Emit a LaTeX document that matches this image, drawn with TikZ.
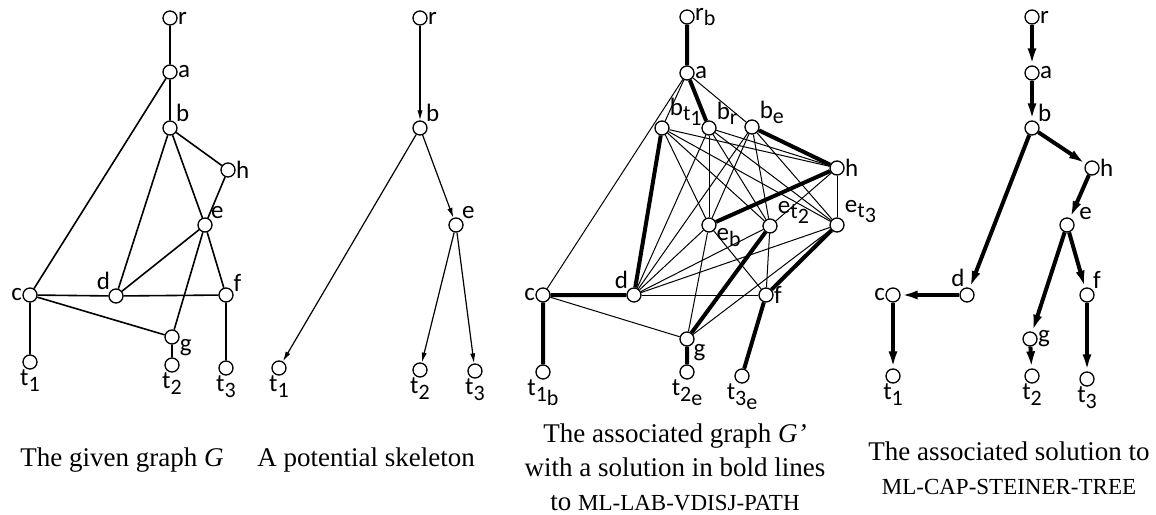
\documentclass[tikz,border=0pt]{standalone}
\usepackage{fontspec}
\setmainfont{Liberation Serif}
\newfontfamily\labfont{Carlito}
\usetikzlibrary{arrows.meta}
\newcommand{\lo}[1]{\raisebox{-0.45ex}{\fontsize{11}{11}\selectfont #1}}
\newcommand{\smallcap}{\fontsize{11.5}{17}\selectfont}

\begin{document}
\begin{tikzpicture}[x=0.5pt,y=-0.5pt,
    v/.style={circle,draw,line width=0.65pt,minimum size=7pt,inner sep=0pt,fill=white},
    every label/.style={font=\labfont\fontsize{12.5}{12.5}\selectfont,inner sep=0.5pt},
    label distance=-0.5pt,
    edge/.style={line width=0.8pt},
    thinedge/.style={line width=0.5pt},
    boldedge/.style={line width=2pt},
    arr/.style={-{Latex[length=5pt,width=2.6pt]},line width=0.6pt},
    barr/.style={-{Latex[length=8.5pt,width=4.5pt]},line width=2pt},
    capt/.style={font=\fontsize{13.5}{17}\selectfont,inner sep=0pt}]
  \useasboundingbox (0,0) rectangle (1156,514);

  % the given graph
  \node[v,label=right:r] (Ar) at (170,18) {};
  \node[v,label=right:a] (Aa) at (170,72) {};
  \node[v,label=45:b] (Ab) at (170,128) {};
  \node[v,label=right:h] (Ah) at (228,170) {};
  \node[v,label=45:e] (Ae) at (205,225) {};
  \node[v,label=left:c] (Ac) at (30,295) {};
  \node[v,label=135:d] (Ad) at (116,296) {};
  \node[v,label=20:f] (Af) at (226,295) {};
  \node[v,label=-10:g] (Ag) at (172,337) {};
  \node[v,label=below:t\lo{1}] (At1) at (30,362) {};
  \node[v,label=below:t\lo{2}] (At2) at (172,365) {};
  \node[v,label=below:t\lo{3}] (At3) at (226,368) {};
  \draw[edge] (Ar) -- (Aa) -- (Ab) -- (Ah) -- (Ae) -- (Af) -- (At3);
  \draw[edge] (Aa) -- (Ac) -- (At1);
  \draw[edge] (Ab) -- (Ad) -- (Ae) -- (Ab);
  \draw[edge] (Ae) -- (Ag) -- (At2);
  \draw[edge] (Ac) -- (Ad) -- (Af);
  \draw[edge] (Ac) -- (Ag);

  % skeleton
  \node[v,label=right:r] (Br) at (420,18) {};
  \node[v,label=45:b] (Bb) at (420,128) {};
  \node[v,label=45:e] (Be) at (456,225) {};
  \node[v,label=below:t\lo{1}] (Bt1) at (279,368) {};
  \node[v,label=below:t\lo{2}] (Bt2) at (420,370) {};
  \node[v,label=below:t\lo{3}] (Bt3) at (475,371) {};
  \draw[arr] (Br) -- (Bb);
  \draw[arr] (Bb) -- (Bt1);
  \draw[arr] (Bb) -- (Be);
  \draw[arr] (Be) -- (Bt2);
  \draw[arr] (Be) -- (Bt3);

  % associated graph
  \node[v,label=right:r\lo{b}] (Cr) at (687,17) {};
  \node[v,label=right:a] (Ca) at (687,73) {};
  \node[v,label=10:b\lo{t\lo{1}}] (Cb1) at (662,128) {};
  \node[v,label=15:b\lo{r}] (Cb2) at (709,128) {};
  \node[v,label=15:b\lo{e}] (Cb3) at (752,127) {};
  \node[v,label=right:h] (Ch) at (837,168) {};
  \node[v,label=-20:e\lo{b}] (Ce1) at (709,225) {};
  \node[v,label=10:e\lo{t\lo{2}}] (Ce2) at (770,226) {};
  \node[v,label=10:e\lo{t\lo{3}}] (Ce3) at (837,225) {};
  \node[v,label=left:c] (Cc) at (543,295) {};
  \node[v,label=135:d] (Cd) at (634,295) {};
  \node[v,label=right:f] (Cf) at (766,295) {};
  \node[v,label=-40:g] (Cg) at (687,339) {};
  \node[v,label=below:t\lo{1\lo{b}}] (Ct1) at (543,372) {};
  \node[v,label=below:t\lo{2\lo{e}}] (Ct2) at (687,372) {};
  \node[v,label=below:t\lo{3\lo{e}}] (Ct3) at (742,376) {};
  \foreach \i in {1,2,3} {
    \draw[thinedge] (Ca) -- (Cb\i);
    \draw[thinedge] (Cb\i) -- (Ch);
    \draw[thinedge] (Cb\i) -- (Cd);
    \draw[thinedge] (Ce\i) -- (Ch);
    \draw[thinedge] (Ce\i) -- (Cd);
    \draw[thinedge] (Ce\i) -- (Cg);
    \draw[thinedge] (Ce\i) -- (Cf);
    \foreach \j in {1,2,3}
      \draw[thinedge] (Cb\i) -- (Ce\j);
  }
  \draw[thinedge] (Ca) -- (Cc);
  \draw[thinedge] (Cc) -- (Cg);
  \draw[thinedge] (Cd) -- (Cf);
  \draw[boldedge] (Cr) -- (Ca) -- (Cb2);
  \draw[boldedge] (Cb1) -- (Cd) -- (Cc) -- (Ct1);
  \draw[boldedge] (Cb3) -- (Ch) -- (Ce1);
  \draw[boldedge] (Ce2) -- (Cg) -- (Ct2);
  \draw[boldedge] (Ce3) -- (Cf) -- (Ct3);

  % associated solution
  \node[v,label=right:r] (Dr) at (1032,17) {};
  \node[v,label=right:a] (Da) at (1032,73) {};
  \node[v,label=45:b] (Db) at (1032,128) {};
  \node[v,label=right:h] (Dh) at (1092,168) {};
  \node[v,label={[label distance=2pt]20:e}] (De) at (1067,225) {};
  \node[v,label=100:d] (Dd) at (967,295) {};
  \node[v,label=left:c] (Dc) at (893,295) {};
  \node[v,label=45:f] (Df) at (1087,295) {};
  \node[v,label=right:g] (Dg) at (1030,339) {};
  \node[v,label=below:t\lo{1}] (Dt1) at (893,376) {};
  \node[v,label=below:t\lo{2}] (Dt2) at (1032,376) {};
  \node[v,label=below:t\lo{3}] (Dt3) at (1087,379) {};
  \draw[barr] (Dr) -- (Da);
  \draw[barr] (Da) -- (Db);
  \draw[barr] (Db) -- (Dh);
  \draw[barr] (Dh) -- (De);
  \draw[barr] (De) -- (Dg);
  \draw[barr] (De) -- (Df);
  \draw[barr] (Db) -- (Dd);
  \draw[barr] (Dd) -- (Dc);
  \draw[barr] (Dc) -- (Dt1);
  \draw[barr] (Dg) -- (Dt2);
  \draw[barr] (Df) -- (Dt3);

  \node[capt,anchor=base] (capA) at (122,466) {The given graph \textit{G}};
  \node[capt,anchor=base] (capB) at (366,466) {A potential skeleton};
  \node[capt,anchor=north,align=center] (capC) at (675,423)
    {The associated graph \textit{G’}\\with a solution in bold lines\\to {\smallcap ML-LAB-VDISJ-PATH}};
  \node[capt,anchor=north,align=center] (capD) at (1009,441)
    {The associated solution to\\{\smallcap ML-CAP-STEINER-TREE}};
\end{tikzpicture}
\end{document}
